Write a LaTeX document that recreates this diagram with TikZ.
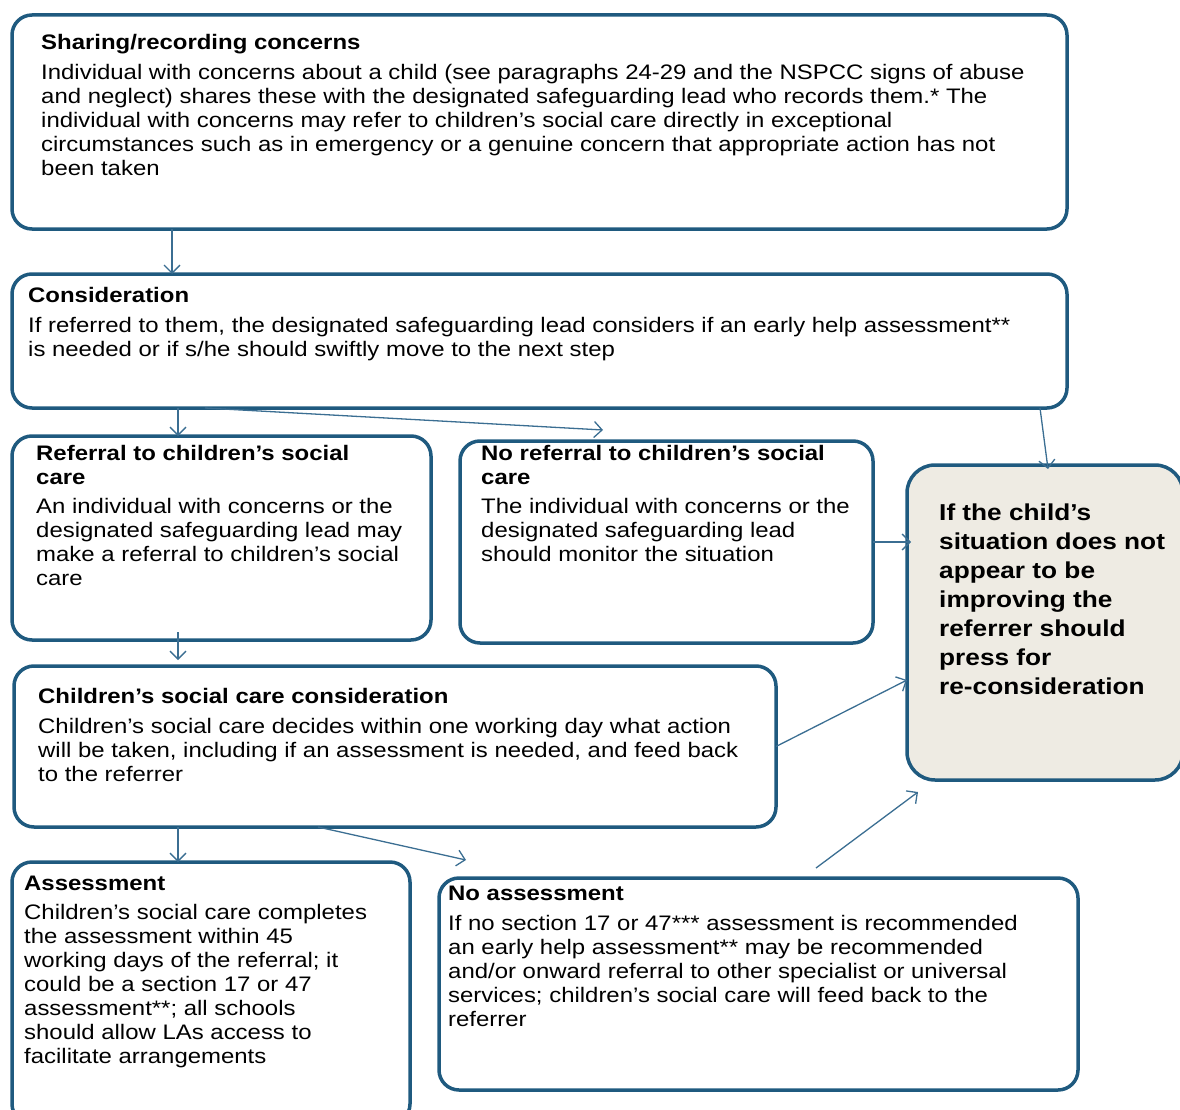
\documentclass[tikz,border=0pt]{standalone}
\usepackage{fontspec}
\setmainfont{Liberation Sans}[FakeStretch=1.14]
\usepackage{tikz}
\usetikzlibrary{arrows.meta}
\definecolor{boxblue}{HTML}{1F5A7F}
\definecolor{arrowblue}{HTML}{3B6E92}
\definecolor{greyfill}{HTML}{EEEBE3}

\begin{document}
\begin{tikzpicture}[x=1pt, y=-1pt,
    box/.style={draw=boxblue, line width=3.5pt, rounded corners=20pt, anchor=north west, inner sep=0pt, outer sep=0pt},
    txt/.style={anchor=north west, inner sep=0pt, align=left, font=\fontsize{21}{24}\selectfont},
    flow/.style={draw=arrowblue, line width=1.3pt, -{Straight Barb[length=8pt,width=16pt]}}]
  \useasboundingbox (0,0) rectangle (1180,1110);

  % boxes
  \node[box, minimum width=1055pt, minimum height=214pt] (share) at (12,15) {};
  \node[box, minimum width=1055pt, minimum height=134pt] (consid) at (12,274) {};
  \node[box, minimum width=419pt, minimum height=204pt] (refer) at (12,436) {};
  \node[box, minimum width=413pt, minimum height=202pt] (noref) at (460,441) {};
  \node[box, fill=greyfill, rounded corners=28pt, minimum width=276pt, minimum height=315pt] (recon) at (907,465) {};
  \node[box, minimum width=762pt, minimum height=161pt] (csc) at (14,666) {};
  \node[box, minimum width=398pt, minimum height=262pt] (assess) at (12,862) {};
  \node[box, minimum width=639pt, minimum height=212pt] (noassess) at (439,878) {};

  % texts
  \node[txt] (share-t) at (41,34) {{\bfseries Sharing/recording concerns}\\[6pt]
    Individual with concerns about a child (see paragraphs 24-29 and the NSPCC signs of abuse\\
    and neglect) shares these with the designated safeguarding lead who records them.* The\\
    individual with concerns may refer to children’s social care directly in exceptional\\
    circumstances such as in emergency or a genuine concern that appropriate action has not\\
    been taken};
  \node[txt] (consid-t) at (28,287) {{\bfseries Consideration}\\[6pt]
    If referred to them, the designated safeguarding lead considers if an early help assessment**\\
    is needed or if s/he should swiftly move to the next step};
  \node[txt] (refer-t) at (36,445) {{\bfseries Referral to children’s social}\\
    {\bfseries care}\\[5pt]
    An individual with concerns or the\\
    designated safeguarding lead may\\
    make a referral to children’s social\\
    care};
  \node[txt] (noref-t) at (481,445) {{\bfseries No referral to children’s social}\\
    {\bfseries care}\\[5pt]
    The individual with concerns or the\\
    designated safeguarding lead\\
    should monitor the situation};
  \node[txt, font=\fontsize{23}{29}\selectfont\bfseries] (recon-t) at (939,504) {If the child’s\\
    situation does not\\
    appear to be\\
    improving the\\
    referrer should\\
    press for\\
    re-consideration};
  \node[txt] (csc-t) at (38,688) {{\bfseries Children’s social care consideration}\\[6pt]
    Children’s social care decides within one working day what action\\
    will be taken, including if an assessment is needed, and feed back\\
    to the referrer};
  \node[txt] (assess-t) at (24,876) {{\bfseries Assessment}\\[5pt]
    Children’s social care completes\\
    the assessment within 45\\
    working days of the referral; it\\
    could be a section 17 or 47\\
    assessment**; all schools\\
    should allow LAs access to\\
    facilitate arrangements};
  \node[txt] (noassess-t) at (448,886) {{\bfseries No assessment}\\[6pt]
    If no section 17 or 47*** assessment is recommended\\
    an early help assessment** may be recommended\\
    and/or onward referral to other specialist or universal\\
    services; children’s social care will feed back to the\\
    referrer};

  % arrows
  \draw[flow] ([xshift=160pt]share.south west) -- ([xshift=160pt]consid.north west);
  \draw[flow] ([xshift=166pt]consid.south west) -- ([xshift=166pt]refer.north west);
  \draw[flow] ([xshift=193pt]consid.south west) -- ([xshift=143pt,yshift=11pt]noref.north west);
  \draw[flow] ([xshift=-27pt]consid.south east) -- ([xshift=141pt,yshift=-4pt]recon.north west);
  \draw[flow] (noref.east) -- ([xshift=4pt]noref.east -| recon.west);
  \draw[flow] ([xshift=166pt,yshift=8pt]refer.south west) -- ([xshift=164pt,yshift=6pt]csc.north west);
  \draw[flow] (csc.east) -- ([yshift=-215pt]recon.north west);
  \draw[flow] ([xshift=164pt]csc.south west) -- ([xshift=166pt]assess.north west);
  \draw[flow] ([xshift=304pt]csc.south west) -- ([xshift=27pt,yshift=18pt]noassess.north west);
  \draw[flow] ([xshift=377pt,yshift=10pt]noassess.north west) -- ([xshift=11pt,yshift=-12pt]recon.south west);
\end{tikzpicture}
\end{document}
